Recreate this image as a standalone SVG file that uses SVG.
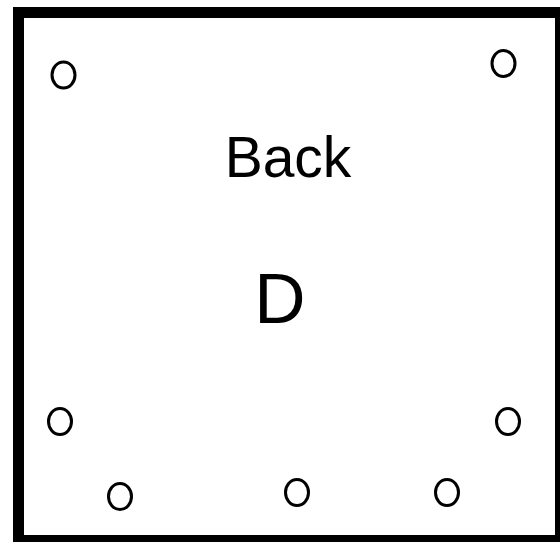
<svg xmlns="http://www.w3.org/2000/svg" width="560" height="542" viewBox="0 0 560 542">
<style>
.pin{fill:none;stroke:#000;stroke-width:3}
.lbl{font-family:"Liberation Sans",Arial,sans-serif;fill:#000;text-anchor:middle}
</style>
<rect width="560" height="542" fill="#fff"/>
<g id="frame"><rect x="18.5" y="12.5" width="542" height="528" fill="none" stroke="#000" stroke-width="11"/></g>
<g id="title"><text class="lbl" x="288" y="177" font-size="57">Back</text></g>
<g id="letter"><text class="lbl" x="280" y="323" font-size="71">D</text></g>
<g id="pins">
<ellipse class="pin" cx="63.5" cy="75" rx="11.5" ry="13"/>
<ellipse class="pin" cx="503.5" cy="63.5" rx="11.5" ry="13"/>
<ellipse class="pin" cx="60" cy="421.5" rx="11.5" ry="13"/>
<ellipse class="pin" cx="508" cy="421.5" rx="11.5" ry="13"/>
<ellipse class="pin" cx="120" cy="496.5" rx="11.5" ry="13"/>
<ellipse class="pin" cx="297" cy="492.5" rx="11.5" ry="13"/>
<ellipse class="pin" cx="447" cy="492.5" rx="11.5" ry="13"/>
</g>
</svg>
